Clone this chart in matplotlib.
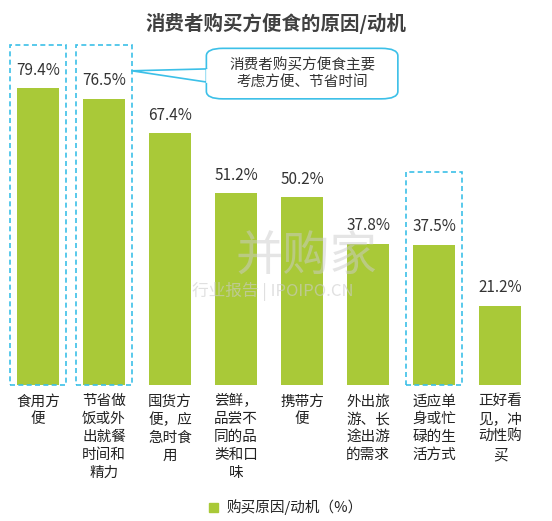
import matplotlib
matplotlib.use("Agg")
import matplotlib.pyplot as plt
from matplotlib.patches import Rectangle, FancyBboxPatch

plt.rcParams['font.family'] = ['Noto Sans CJK SC', 'DejaVu Sans']

categories = ["食用方\n便", "节省做\n饭或外\n出就餐\n时间和\n精力", "囤货方\n便，应\n急时食\n用",
              "尝鲜，\n品尝不\n同的品\n类和口\n味", "携带方\n便", "外出旅\n游、长\n途出游\n的需求",
              "适应单\n身或忙\n碌的生\n活方式", "正好看\n见，冲\n动性购\n买"]
values = [79.4, 76.5, 67.4, 51.2, 50.2, 37.8, 37.5, 21.2]
highlight = [0, 1, 6]

fig = plt.figure(figsize=(5.52, 5.21), dpi=100)
ax = fig.add_axes([0.009, 0.261, 0.957, 0.662])
green = "#a9c938"
x = list(range(len(values)))
ax.bar(x, values, width=0.63, color=green)
ax.set_xlim(-0.5, 7.5)
ax.set_ylim(0, 92.2)
for s in ax.spines.values():
    s.set_visible(False)
ax.set_yticks([])
ax.set_xticks([])
for i, v in enumerate(values):
    ax.text(i, v + 2.5, f"{v}%", ha="center", va="bottom", fontsize=11, color="#333333")
    ax.text(i, -2.5, categories[i], ha="center", va="top", fontsize=10.5, color="#222222",
            linespacing=1.35)

tops = {0: 91, 1: 91, 6: 57}
for i in highlight:
    ax.add_patch(Rectangle((i - 0.42, 0), 0.84, tops[i], fill=False, ec="#3cc0e8",
                           ls=(0, (3, 2)), lw=1.2, clip_on=False))

# callout
ax.add_patch(FancyBboxPatch((2.55, 76.5), 2.9, 13.5, boxstyle="round,pad=0,rounding_size=0.25",
                            fc="white", ec="#3cc0e8", lw=1.2, clip_on=False, zorder=5,
                            mutation_aspect=8))
ax.plot([2.55, 1.42, 2.55], [84.5, 84, 81], color="#3cc0e8", lw=1.2, zorder=6, clip_on=False)
ax.plot([2.56, 2.56], [81.2, 84.3], color="white", lw=2, zorder=7)
ax.text(4.0, 83.2, "消费者购买方便食主要\n考虑方便、节省时间", ha="center", va="center",
        fontsize=10.5, color="#333333", zorder=8, linespacing=1.3)

# watermark
fig.text(0.555, 0.505, "并购家", fontsize=34, color="#cccccc", alpha=0.5, ha="center", va="center")
fig.text(0.495, 0.44, "行业报告 | IPOIPO.CN", fontsize=12, color="#cccccc", alpha=0.6,
         ha="center", va="center")

fig.text(0.5, 0.955, "消费者购买方便食的原因/动机", ha="center", va="center",
         fontsize=14, fontweight="bold", color="#404040")

fig.patches.append(Rectangle((0.378, 0.017), 0.017, 0.018, transform=fig.transFigure,
                             color=green, figure=fig))
fig.text(0.41, 0.026, "购买原因/动机（%）", fontsize=10.5, va="center", color="#222222")

fig.savefig("out.png", dpi=100)
